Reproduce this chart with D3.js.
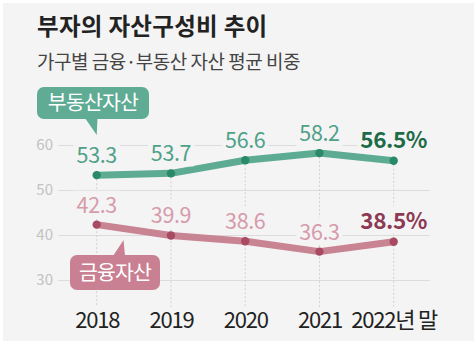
<!DOCTYPE html>
<html><head><meta charset="utf-8">
<script src="https://cdn.jsdelivr.net/npm/d3@7"></script>
<style>
html,body{margin:0;padding:0;background:#fff;}
svg{display:block;font-family:"Noto Sans CJK KR","Noto Sans",sans-serif;}
</style></head>
<body>
<script>
const years = ["2018","2019","2020","2021","2022년 말"];
const realEstate = [53.3,53.7,56.6,58.2,56.5];
const financial = [42.3,39.9,38.6,36.3,38.5];
const yTicks = [30,40,50,60];
const title = "부자의 자산구성비 추이";
const subtitle = "가구별 금융·부동산 자산 평균 비중";
const seriesNames = ["부동산자산","금융자산"];

const W=474,H=345;
const svg=d3.select("body").append("svg").attr("width",W).attr("height",H);
svg.append("rect").attr("x",3).attr("y",3).attr("width",W-3).attr("height",338).attr("fill","#f4f4f4");

svg.append("text").attr("x",37).attr("y",35).attr("font-size",23.5).attr("font-weight",700)
  .attr("letter-spacing",0.3).attr("fill","#222").text(title);
svg.append("text").attr("x",37).attr("y",69).attr("font-size",19).attr("letter-spacing",-0.5)
  .attr("fill","#444").text(subtitle);

const x=d3.scalePoint().domain(years).range([96.7,393.7]);
const y=d3.scaleLinear().domain([30,60]).range([280,145]);

// grid + y labels
const gy=svg.append("g").attr("transform","translate(58,0)")
  .call(d3.axisLeft(y).tickValues(yTicks).tickSize(-(430-58)).tickPadding(5));
gy.select(".domain").remove();
gy.selectAll("line").attr("stroke","#dcdcdc").attr("stroke-width",1);
gy.selectAll("text").attr("font-size",15).attr("fill","#c2c2c2").attr("font-family","'Noto Sans CJK KR',sans-serif");

// vertical dotted lines
svg.append("g").selectAll("line").data(years).join("line")
  .attr("x1",d=>x(d)).attr("x2",d=>x(d))
  .attr("y1",(d,i)=>y(realEstate[i])).attr("y2",307)
  .attr("stroke","#d2d2d2").attr("stroke-width",1).attr("stroke-dasharray","2,2");

// x labels
const gx=svg.append("g").attr("transform","translate(0,312)")
  .call(d3.axisBottom(x).tickSize(0).tickPadding(0));
gx.select(".domain").remove();
gx.selectAll("text").attr("font-size",22).attr("letter-spacing",-1.2).attr("fill","#222")
  .attr("dy","0.71em").attr("font-family","'Noto Sans CJK KR',sans-serif");

const series=[
  {vals:realEstate,line:"#5dab93",dot:"#2a8a67",lab:"#4fa188",last:"#1d6b47"},
  {vals:financial,line:"#c98494",dot:"#a94a63",lab:"#d69bab",last:"#8c3953"}
];
const lineGen=d3.line().x((d,i)=>x(years[i])).y(d=>y(d));

series.forEach(s=>{
  svg.append("path").datum(s.vals).attr("d",lineGen).attr("fill","none")
    .attr("stroke",s.line).attr("stroke-width",7).attr("stroke-linecap","round").attr("stroke-linejoin","round");
  svg.append("g").selectAll("circle").data(s.vals).join("circle")
    .attr("cx",(d,i)=>x(years[i])).attr("cy",d=>y(d)).attr("r",4.2).attr("fill",s.dot);
  const lg=svg.append("g");
  s.vals.forEach((v,i)=>{
    const last=i===s.vals.length-1;
    const t=lg.append("text").attr("x",x(years[i])).attr("y",y(v)-(last?13:12))
      .attr("text-anchor","middle").attr("font-size",last?22.5:21.5).attr("font-weight",last?700:400)
      .attr("letter-spacing",-0.4)
      .attr("fill",last?s.last:s.lab).text(last?v.toFixed(1)+"%":v.toFixed(1));
    const bb=t.node().getBBox();
    lg.insert("rect","text").attr("x",bb.x-3).attr("y",bb.y+3).attr("width",bb.width+6).attr("height",bb.height-4)
      .attr("fill","#f4f4f4");
  });
});

// callout boxes
function callout(bx,by,bw,bh,tri,color,label){
  const g=svg.append("g");
  g.append("rect").attr("x",bx).attr("y",by).attr("width",bw).attr("height",bh).attr("rx",7).attr("fill",color);
  g.append("path").attr("d","M"+tri.map(p=>p.join(",")).join("L")+"Z").attr("fill",color);
  g.append("text").attr("x",bx+bw/2).attr("y",by+bh/2).attr("dy","0.36em").attr("text-anchor","middle")
    .attr("font-size",20.5).attr("letter-spacing",-0.8).attr("fill","#fff").text(label);
}
callout(37,87,112,32,[[85,118],[97.5,118],[96.7,135]],"#5fab94",seriesNames[0]);
callout(70,255,90,35,[[113,256],[125,256],[123.5,240]],"#c98092",seriesNames[1]);
</script>
</body></html>
